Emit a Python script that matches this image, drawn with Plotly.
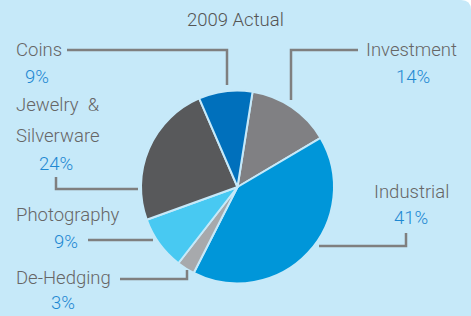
import plotly.graph_objects as go

# Data (clockwise from just right of 12 o'clock)
categories = ["Investment", "Industrial", "De-Hedging", "Photography", "Jewelry &<br>Silverware", "Coins"]
values = [14, 41, 3, 9, 24, 9]
colors = ["#808083", "#0096d9", "#a7a9ac", "#48c9f2", "#58595b", "#0070bc"]
title_text = "2009 Actual"

W, H = 471, 316
BG = "#c6e9f9"
GRAY = "#666666"
BLUE = "#1e88d2"
LINE = "#7f7f7f"
FONT = "Roboto"
FS = 18.5


def px(x):
    return x / W


def py(y):
    return 1 - y / H


fig = go.Figure(go.Pie(
    labels=categories,
    values=values,
    sort=False,
    direction="clockwise",
    rotation=9,
    marker=dict(colors=colors, line=dict(color=BG, width=2)),
    textinfo="none",
    hoverinfo="label+percent",
    showlegend=False,
    domain=dict(x=[px(141), px(334)], y=[py(284), py(90)]),
))

# label x, [label line y's], anchor, pct x, pct y
label_pos = {
    "Investment": (459, [50], "right", 413, 77),
    "Industrial": (451, [192], "right", 411, 218),
    "De-Hedging": (14, [278], "left", 63, 303),
    "Photography": (14, [215], "left", 66, 242),
    "Jewelry &<br>Silverware": (14, [105, 136], "left", 56, 164),
    "Coins": (14, [50], "left", 37, 77),
}

annotations = [dict(x=0.5, y=py(20), xref="paper", yref="paper", text=title_text,
                    showarrow=False, font=dict(size=FS, color="#555555", family=FONT, weight=300),
                    xanchor="center", yanchor="middle")]
for cat, val in zip(categories, values):
    lx, lys, anc, pxx, pyy = label_pos[cat]
    for part, ly in zip(cat.split("<br>"), lys):
        annotations.append(dict(x=px(lx), y=py(ly), xref="paper", yref="paper",
                                text=part.replace("&", "&nbsp;&"),
                                showarrow=False, xanchor=anc, yanchor="middle",
                                font=dict(size=FS, color=GRAY, family=FONT, weight=300)))
    annotations.append(dict(x=px(pxx), y=py(pyy), xref="paper", yref="paper", text=f"{val}%",
                            showarrow=False, xanchor="center", yanchor="middle",
                            font=dict(size=FS, color=BLUE, family=FONT, weight=300)))

leader_lines = [
    [(67, 50), (227, 50), (227, 85)],
    [(358, 50), (291, 50), (291, 100)],
    [(56, 177), (56, 189), (138, 189)],
    [(88, 240), (153, 240)],
    [(120, 279), (187, 279), (187, 270)],
    [(319, 246), (406, 246), (406, 233)],
]
shapes = []
for pts in leader_lines:
    path = "M " + " L ".join(f"{px(x)},{py(y)}" for x, y in pts)
    shapes.append(dict(type="path", path=path, xref="paper", yref="paper",
                       line=dict(color=LINE, width=2.5)))

shapes.append(dict(type="path", xref="paper", yref="paper",
                   path=f"M {px(461)},{py(0)} L {px(471)},{py(0)} L {px(471)},{py(10)} Q {px(471)},{py(0)} {px(461)},{py(0)} Z",
                   fillcolor="white", line=dict(width=0)))

fig.update_layout(
    width=W, height=H,
    margin=dict(l=0, r=0, t=0, b=0),
    paper_bgcolor=BG, plot_bgcolor=BG,
    annotations=annotations,
    shapes=shapes,
)

fig.write_html("out.html", config={"displayModeBar": False},
               post_script="document.body.style.margin='0';document.body.style.overflow='hidden';")
